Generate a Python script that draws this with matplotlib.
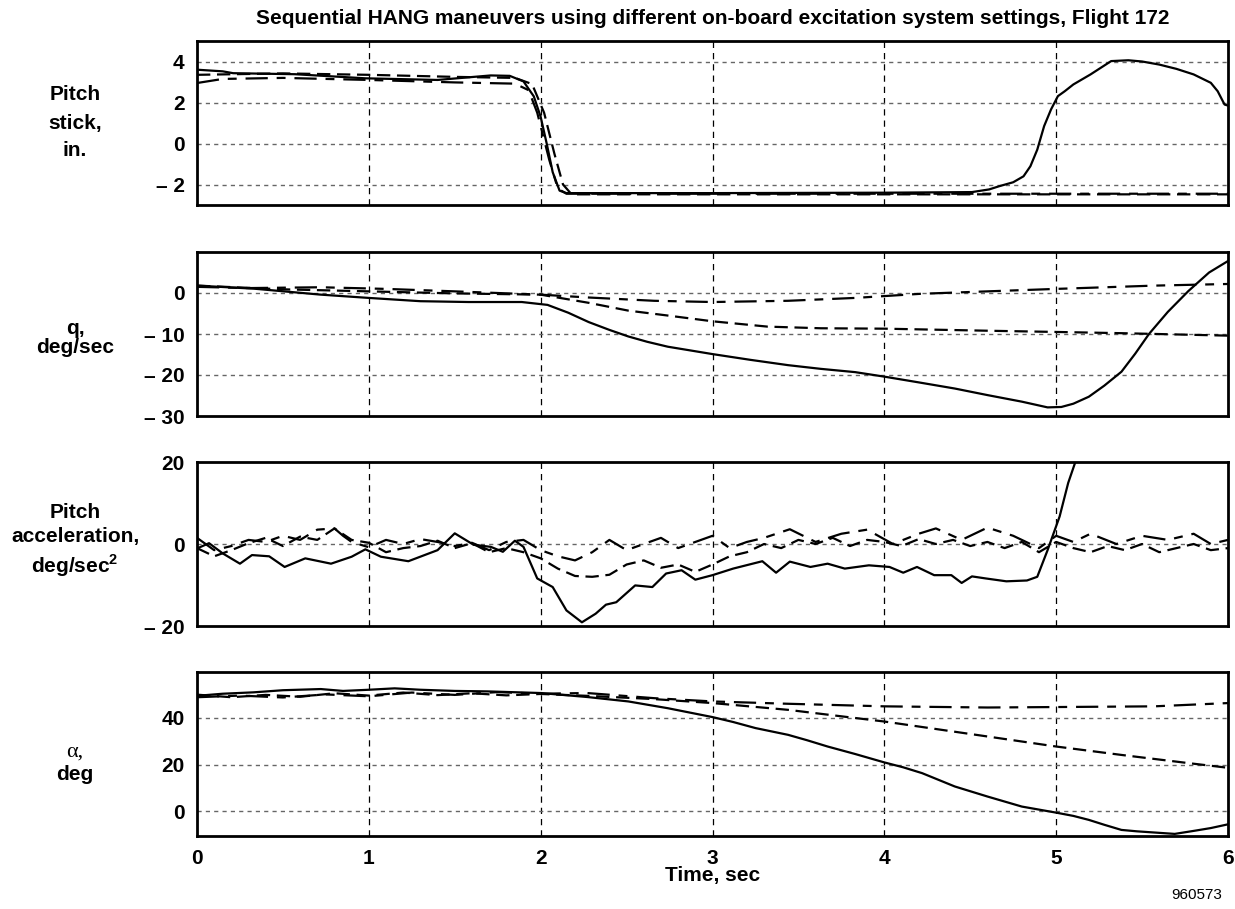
import matplotlib
matplotlib.use("Agg")
import matplotlib.pyplot as plt

plt.rcParams['font.family'] = ['Liberation Sans', 'DejaVu Sans']
plt.rcParams['mathtext.fontset'] = 'custom'
plt.rcParams['mathtext.rm'] = 'Liberation Sans:bold'
plt.rcParams['mathtext.bf'] = 'Liberation Sans:bold'

# ---- data (time in sec) ----
# run A = solid, run B = medium dash, run C = long/short dash

# pitch stick, in.
stick_a_t = [0, 0.15, 0.21, 0.57, 0.98, 1.4, 1.71, 1.82, 1.9, 1.96, 2.0, 2.035, 2.07, 2.11, 2.15,
             3.0, 4.0, 4.51, 4.61, 4.67, 4.75, 4.81, 4.85, 4.89, 4.93, 4.97, 5.01, 5.05, 5.1, 5.2,
             5.32, 5.42, 5.5, 5.6, 5.7, 5.8, 5.9, 5.94, 5.98, 6.0]
stick_a = [3.6, 3.52, 3.43, 3.38, 3.18, 3.1, 3.32, 3.3, 3.03, 2.3, 1.3, 0.0, -1.4, -2.3, -2.42,
           -2.42, -2.4, -2.37, -2.24, -2.08, -1.89, -1.6, -1.11, -0.3, 0.85, 1.66, 2.31, 2.55, 2.88, 3.37,
           4.02, 4.06, 4.0, 3.85, 3.64, 3.37, 2.96, 2.55, 1.9, 1.85]
stick_b_t = [0, 0.5, 1.0, 1.5, 1.85, 1.95, 2.02, 2.08, 2.13, 2.18, 4.0, 6.0]
stick_b = [3.35, 3.42, 3.35, 3.25, 3.2, 2.9, 1.5, -0.5, -2.0, -2.48, -2.48, -2.48]
stick_c_t = [0, 0.15, 0.5, 1.0, 1.5, 1.85, 1.93, 1.98, 2.05, 2.1, 2.15, 4.0, 6.0]
stick_c = [2.95, 3.15, 3.2, 3.1, 2.98, 2.92, 2.6, 1.5, -0.8, -2.2, -2.45, -2.45, -2.45]

# pitch rate q, deg/sec
q_a_t = [0, 0.33, 0.72, 1.0, 1.3, 1.58, 1.89, 2.04, 2.16, 2.28, 2.4, 2.51, 2.62, 2.74, 2.87, 3.0,
         3.22, 3.44, 3.63, 3.83, 4.0, 4.2, 4.41, 4.6, 4.8, 4.95, 5.03, 5.1, 5.19, 5.28, 5.38, 5.46,
         5.54, 5.65, 5.77, 5.89, 6.0]
q_a = [1.8, 1.06, -0.4, -1.2, -2.0, -2.2, -2.2, -2.9, -4.8, -7.1, -9.0, -10.6, -11.9, -13.1, -14.0,
       -14.9, -16.3, -17.6, -18.5, -19.3, -20.4, -21.8, -23.3, -24.9, -26.5, -27.9, -27.8, -27.0,
       -25.3, -22.6, -19.2, -14.8, -10.0, -4.6, 0.5, 5.0, 7.8]
q_b_t = [0, 0.5, 1.0, 1.5, 2.0, 2.28, 2.51, 2.74, 3.0, 3.32, 3.63, 4.0, 4.6, 5.0, 5.38, 6.0]
q_b = [1.8, 0.9, 0.4, -0.1, -0.4, -2.4, -4.3, -5.5, -6.9, -8.2, -8.6, -8.7, -9.2, -9.5, -9.8, -10.4]
q_c_t = [0, 0.3, 0.72, 1.1, 1.5, 2.0, 2.28, 2.66, 3.0, 3.44, 3.83, 4.21, 4.6, 5.0, 5.57, 6.0]
q_c = [1.5, 1.2, 1.4, 1.0, 0.4, -0.4, -1.1, -1.9, -2.2, -1.9, -1.2, -0.2, 0.4, 1.0, 1.8, 2.2]

# pitch acceleration, deg/sec^2
acc_a_t = [0, 0.07, 0.15, 0.25, 0.32, 0.42, 0.51, 0.63, 0.78, 0.9, 0.98, 1.07, 1.23, 1.4, 1.5,
           1.61, 1.71, 1.78, 1.85, 1.9, 1.98, 2.07, 2.15, 2.24, 2.32, 2.38, 2.44, 2.55, 2.65, 2.73,
           2.82, 2.9, 3.0, 3.12, 3.29, 3.37, 3.45, 3.57, 3.67, 3.77, 3.91, 4.03, 4.11, 4.19, 4.29,
           4.39, 4.45, 4.51, 4.59, 4.71, 4.83, 4.89, 4.95, 5.02, 5.07, 5.11, 5.2, 5.4]
acc_a = [-1.1, 0.2, -2.3, -4.8, -2.7, -3.0, -5.6, -3.5, -4.8, -3.1, -1.3, -3.1, -4.2, -1.5, 2.6,
         -0.2, -0.7, -1.9, 0.8, -0.7, -8.4, -10.5, -16.2, -19.1, -17.0, -14.8, -14.2, -10.1, -10.5, -7.2,
         -6.4, -8.7, -7.6, -6.0, -4.2, -7.0, -4.3, -5.6, -4.8, -6.0, -5.2, -5.6, -7.0, -5.6, -7.6,
         -7.6, -9.5, -7.9, -8.4, -9.1, -8.9, -8.0, -1.5, 6.7, 14.9, 19.8, 26.0, 32.0]
acc_b_t = [0, 0.1, 0.2, 0.3, 0.4, 0.5, 0.6, 0.7, 0.8, 0.9, 1.0, 1.1, 1.2, 1.3, 1.4, 1.5, 1.6, 1.7,
           1.8, 1.9, 2.0, 2.1, 2.2, 2.3, 2.4, 2.5, 2.6, 2.7, 2.8, 2.9, 3.0, 3.1, 3.2, 3.3, 3.4, 3.5,
           3.6, 3.7, 3.8, 3.9, 4.0, 4.1, 4.2, 4.3, 4.4, 4.5, 4.6, 4.7, 4.8, 4.9, 5.0, 5.1, 5.2, 5.3,
           5.4, 5.5, 5.6, 5.7, 5.8, 5.9, 6.0]
acc_b = [-1.0, -3.0, -1.5, 0.2, 1.5, -0.5, 1.8, 1.0, 3.8, 1.0, 0.3, -2.0, -1.0, -0.5, 0.8, -1.0,
         0.2, -2.0, -1.0, -2.0, -3.5, -6.0, -7.8, -8.0, -7.5, -5.0, -4.0, -5.8, -5.0, -6.8, -5.0,
         -3.0, -2.0, 0.0, -1.0, 1.0, 0.0, 1.5, -0.5, 1.0, 0.5, -0.5, 1.2, 0.0, 1.0, -0.5, 0.5,
         -1.0, 0.5, -2.0, 0.5, -1.0, -2.0, -0.5, -1.5, 0.0, -2.0, -1.0, 0.0, -1.5, -1.0]
acc_c_t = [0, 0.1, 0.2, 0.3, 0.4, 0.5, 0.6, 0.7, 0.8, 0.85, 0.9, 1.0, 1.1, 1.2, 1.3, 1.4, 1.5,
           1.6, 1.7, 1.8, 1.9, 2.0, 2.1, 2.2, 2.3, 2.4, 2.5, 2.6, 2.7, 2.8, 2.9, 3.0, 3.1, 3.2,
           3.3, 3.45, 3.6, 3.75, 3.9, 4.05, 4.2, 4.3, 4.45, 4.6, 4.75, 4.9, 5.0, 5.1, 5.2, 5.35,
           5.5, 5.65, 5.8, 5.9, 6.0]
acc_c = [1.5, -1.5, -0.5, 1.0, 0.5, 2.0, 1.0, 3.5, 3.8, 2.0, 0.5, -0.8, 1.0, 0.0, 1.2, 0.5, -0.5,
         0.3, -1.5, 0.5, 1.0, -1.5, -3.0, -4.0, -2.0, 1.0, -1.5, 0.0, 1.5, -1.0, 0.5, 2.0, -1.0,
         0.5, 1.5, 3.6, 0.5, 2.5, 3.5, 0.0, 2.5, 3.8, 1.0, 4.0, 2.0, -1.0, 2.0, 0.5, 2.5, 0.0,
         2.0, 1.0, 2.5, 0.0, 1.0]

# angle of attack alpha, deg
al_a_t = [0, 0.15, 0.33, 0.5, 0.72, 0.85, 1.0, 1.15, 1.3, 1.5, 1.69, 2.0, 2.27, 2.51, 2.74, 3.0,
          3.12, 3.25, 3.44, 3.55, 3.67, 3.83, 4.0, 4.11, 4.22, 4.41, 4.6, 4.8, 5.0, 5.1, 5.19,
          5.28, 5.38, 5.47, 5.57, 5.69, 5.81, 5.9, 6.0]
al_a = [49.4, 50.3, 50.9, 51.8, 52.3, 51.5, 52.0, 52.6, 52.0, 51.5, 51.3, 50.6, 48.9, 47.0, 44.1, 40.3,
        38.2, 35.6, 32.7, 30.4, 27.7, 24.5, 20.9, 18.8, 16.3, 10.6, 6.3, 2.0, -0.6, -2.0, -3.7,
        -5.8, -8.0, -8.6, -9.1, -9.7, -8.3, -7.2, -5.6]
al_b_t = [0, 0.2, 0.4, 0.6, 0.8, 1.0, 1.2, 1.4, 1.6, 1.8, 2.0, 2.27, 2.66, 3.0, 3.44, 4.0, 4.6,
          5.0, 5.38, 5.77, 6.0]
al_b = [49.9, 48.8, 49.8, 49.0, 50.5, 49.5, 50.8, 49.7, 50.5, 49.6, 50.2, 49.4, 48.0, 46.3, 43.4,
        38.4, 32.0, 27.7, 24.1, 20.6, 18.6]
al_c_t = [0, 0.25, 0.5, 0.75, 1.0, 1.25, 1.5, 1.75, 2.0, 2.27, 2.66, 3.0, 3.44, 4.0, 4.6, 5.0,
          5.57, 6.0]
al_c = [48.8, 49.5, 48.7, 50.0, 49.2, 50.8, 49.8, 51.0, 50.3, 50.6, 48.4, 47.0, 46.0, 44.9, 44.4,
        44.6, 44.9, 46.3]

time_ticks = [0, 1, 2, 3, 4, 5, 6]

# ---- figure ----
fig = plt.figure(figsize=(12.35, 9.09), dpi=100)
W, H = 1235.0, 909.0
left, right = 197 / W, 1228 / W
ph = 164 / H
bottoms = [205, 416, 626, 836]
FS = 15

styles = [dict(color='k', lw=1.6, ls='-'),
          dict(color='k', lw=1.6, ls=(0, (6, 3))),
          dict(color='k', lw=1.6, ls=(0, (10, 4, 4, 4)))]

panels = [
    ((stick_a_t, stick_a), (stick_b_t, stick_b), (stick_c_t, stick_c), (-3, 5), [4, 2, 0, -2]),
    ((q_a_t, q_a), (q_b_t, q_b), (q_c_t, q_c), (-30, 10), [0, -10, -20, -30]),
    ((acc_a_t, acc_a), (acc_b_t, acc_b), (acc_c_t, acc_c), (-20, 20), [20, 0, -20]),
    ((al_a_t, al_a), (al_b_t, al_b), (al_c_t, al_c), (-10.6, 59.6), [40, 20, 0]),
]

def fmt(v):
    return ('\u2013 %d' % -v) if v < 0 else '%d' % v

for i, (ra, rb, rc, ylim, yt) in enumerate(panels):
    ax = fig.add_axes([left, 1 - bottoms[i] / H, right - left, ph])
    for (t, v), st in zip([ra, rb, rc], styles):
        ax.plot(t, v, **st, zorder=3)
    ax.set_xlim(0, 6)
    ax.set_ylim(*ylim)
    ax.set_yticks(yt)
    ax.set_yticklabels([fmt(v) for v in yt], fontsize=FS, fontweight='bold')
    ax.set_xticks(time_ticks)
    for x in time_ticks[1:-1]:
        ax.axvline(x, color='k', lw=0.9, ls=(0, (5, 4)), zorder=1)
    for y in yt:
        if ylim[0] < y < ylim[1]:
            ax.axhline(y, color='#666666', lw=1.0, ls=(0, (3, 3)), zorder=1)
    ax.tick_params(length=0, pad=9)
    for s in ax.spines.values():
        s.set_linewidth(2)
    if i < 3:
        ax.set_xticklabels([])
    else:
        ax.set_xticklabels([str(x) for x in time_ticks], fontsize=FS, fontweight='bold')
        ax.set_xlabel('Time, sec', fontsize=FS, fontweight='bold', labelpad=-1)

lx = 75 / W
fig.text(lx, 1 - 123 / H, 'Pitch\nstick,\nin.', ha='center', va='center',
         fontsize=FS, fontweight='bold', linespacing=1.6)
fig.text(lx, 1 - 338 / H, 'q,\ndeg/sec', ha='center', va='center',
         fontsize=FS, fontweight='bold', linespacing=1.05)
fig.text(lx, 1 - 541 / H, 'Pitch\nacceleration,\ndeg/sec$^{\\mathbf{2}}$', ha='center', va='center',
         fontsize=FS, fontweight='bold', linespacing=1.3)
fig.text(lx, 1 - 752 / H, '\u03b1,', ha='center', va='center', fontsize=16,
         family=['Liberation Serif', 'DejaVu Serif'])
fig.text(lx, 1 - 775 / H, 'deg', ha='center', va='center', fontsize=FS, fontweight='bold')

fig.text((left + right) / 2, 1 - 18 / H,
         'Sequential HANG maneuvers using different on-board excitation system settings, Flight 172',
         ha='center', va='center', fontsize=FS, fontweight='bold')
fig.text(1222 / W, 1 - 895 / H, '960573', ha='right', va='center', fontsize=11)

fig.savefig('out.png', dpi=100)
